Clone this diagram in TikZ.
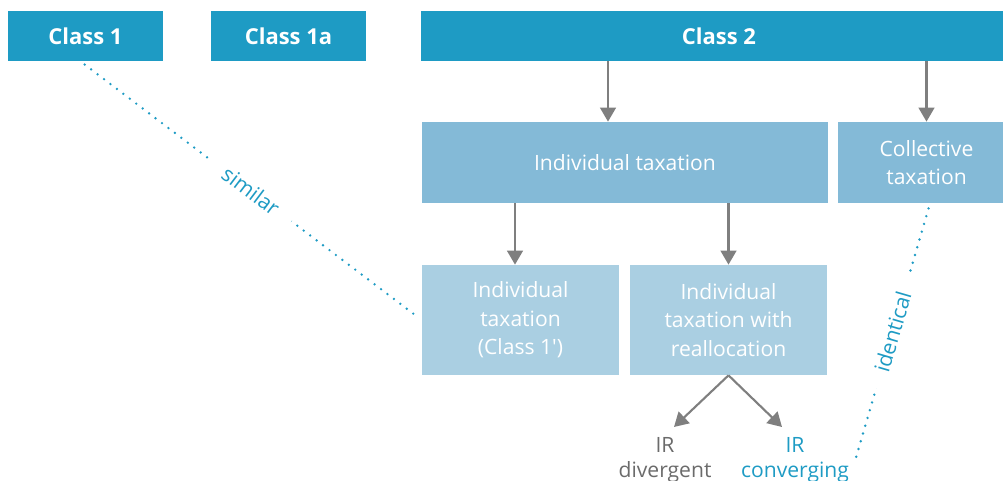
\documentclass[tikz,border=0pt]{standalone}
\usepackage{fontspec}
\setmainfont{Open Sans}
\usepackage{xcolor}
\usepackage{tikz}
\usetikzlibrary{arrows.meta}

\definecolor{clsblue}{HTML}{1E9BC4}
\definecolor{midblue}{HTML}{84BAD7}
\definecolor{lightblue}{HTML}{AACFE2}
\definecolor{arrgray}{HTML}{7F7F7F}
\definecolor{txtgray}{HTML}{6B6B6B}

\begin{document}
\begin{tikzpicture}[
		box/.style={
			text=white,
			align=center,
			inner sep=0pt
			},
		cls/.style={
			box,
			fill=clsblue,
			minimum height=1cm,
			font=\fontsize{12.5}{15}\selectfont\bfseries
			},
		mid/.style={
			box,
			fill=midblue,
			minimum height=1.62cm,
			font=\fontsize{12}{16}\selectfont
			},
		light/.style={
			box,
			fill=lightblue,
			minimum width=3.94cm,
			minimum height=2.2cm,
			font=\fontsize{12}{16.2}\selectfont
			},
		ir/.style={
			align=center,
			inner sep=0pt,
			font=\fontsize{12}{14.2}\selectfont
			},
		arr/.style={
			draw=arrgray,
			line width=1.2pt,
			-{Triangle[length=8pt,width=9pt]}
			},
		dot/.style={
			draw=clsblue,
			line width=1.5pt,
			line cap=round,
			dash pattern=on 0pt off 4.6pt
			},
		lbl/.style={
			fill=white,
			text=clsblue,
			sloped,
			inner xsep=0.35cm,
			inner ysep=1pt,
			font=\fontsize{12}{13}\selectfont
			}
		]

		\useasboundingbox (0,0) rectangle (20.06,9.62);

		% top row
		\node[cls, minimum width=3.1cm] (c1) at (1.71,8.9) {Class 1};
		\node[cls, minimum width=3.1cm] (c1a) at (5.77,8.9) {Class 1a};
		\node[cls, minimum width=11.92cm] (c2) at (14.38,8.9) {Class 2};

		% second row
		\node[mid, minimum width=8.12cm] (ind) at (12.5,6.37) {Individual taxation};
		\node[mid, minimum width=3.54cm] (coll) at (18.53,6.37) {Collective\\taxation};

		% third row
		\node[light] (indc1) at (10.41,3.22) {Individual\\taxation\\(Class 1\textquotesingle)};
		\node[light] (realloc) at (14.57,3.22) {Individual\\taxation with\\reallocation};

		% IR
		\node[ir, text=txtgray] (irdiv) at (13.3,0.42) {IR\\divergent};
		\node[ir, text=clsblue] (irconv) at (15.9,0.42) {IR\\converging};
		\coordinate (tipdiv) at (13.48,1.08);
		\coordinate (tipconv) at (15.64,1.08);

		\draw[arr] (12.16,0 |- c2.south) -- (12.16,0 |- ind.north);
		\draw[arr] (coll.north |- c2.south) -- (coll.north);
		\draw[arr] (10.30,0 |- ind.south) -- (10.30,0 |- indc1.north);
		\draw[arr] (realloc.north |- ind.south) -- (realloc.north);
		\draw[arr] (realloc.south) -- (tipdiv);
		\draw[arr] (realloc.south) -- (tipconv);

		% dotted links
		\draw[dot, shorten <=3pt, shorten >=5pt] ([xshift=-0.1cm]c1.south) -- node[lbl] {similar} (indc1.west);
		\draw[dot, shorten <=3pt] ([xshift=0.07cm]coll.south) -- node[lbl] {identical} ([xshift=0.12cm]irconv.east);
	\end{tikzpicture}
\end{document}
